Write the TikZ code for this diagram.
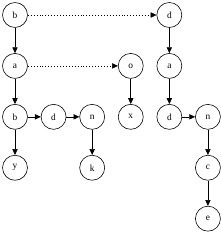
\documentclass[tikz,border=0pt]{standalone}
\usepackage{fontspec}
\setmainfont{Liberation Serif}
\usepackage{tikz}
\usetikzlibrary{arrows.meta,positioning}

\begin{document}
\begin{tikzpicture}[
    vtx/.style={draw, circle, minimum size=0.75cm, inner sep=0pt, line width=0.5pt, font=\footnotesize},
    edge/.style={-{Triangle[length=5pt,width=4.5pt]}, line width=0.5pt},
    link/.style={edge, dotted, line width=0.4pt},
    node distance=0.76cm and 0.39cm]
  \useasboundingbox (0,0) rectangle (6.6,-6.96);

  % left tree
  \node[vtx] (b1) at (0.45,-0.45) {b};
  \node[vtx, below=of b1] (a1) {a};
  \node[vtx, below=of a1] (b2) {b};
  \node[vtx, below=of b2] (y) {y};
  \node[vtx, right=of b2] (d2) {d};
  \node[vtx, right=of d2] (n1) {n};
  \node[vtx, below=of n1] (k) {k};

  % middle tree
  \node[vtx, right=of n1] (x) {x};
  \node[vtx, above=of x] (o) {o};

  % right tree
  \node[vtx, right=of x] (d3) {d};
  \node[vtx, above=of d3] (a2) {a};
  \node[vtx, above=of a2] (d1) {d};
  \node[vtx, right=of d3] (n2) {n};
  \node[vtx, below=of n2] (c) {c};
  \node[vtx, below=of c] (e) {e};

  % solid edges
  \draw[edge] (b1) -- (a1);
  \draw[edge] (a1) -- (b2);
  \draw[edge] (b2) -- (y);
  \draw[edge] (b2) -- (d2);
  \draw[edge] (d2) -- (n1);
  \draw[edge] (n1) -- (k);
  \draw[edge] (o) -- (x);
  \draw[edge] (d1) -- (a2);
  \draw[edge] (a2) -- (d3);
  \draw[edge] (d3) -- (n2);
  \draw[edge] (n2) -- (c);
  \draw[edge] (c) -- (e);

  % dotted links
  \draw[link] (b1) -- (d1);
  \draw[link] (a1) -- (o);
\end{tikzpicture}
\end{document}
